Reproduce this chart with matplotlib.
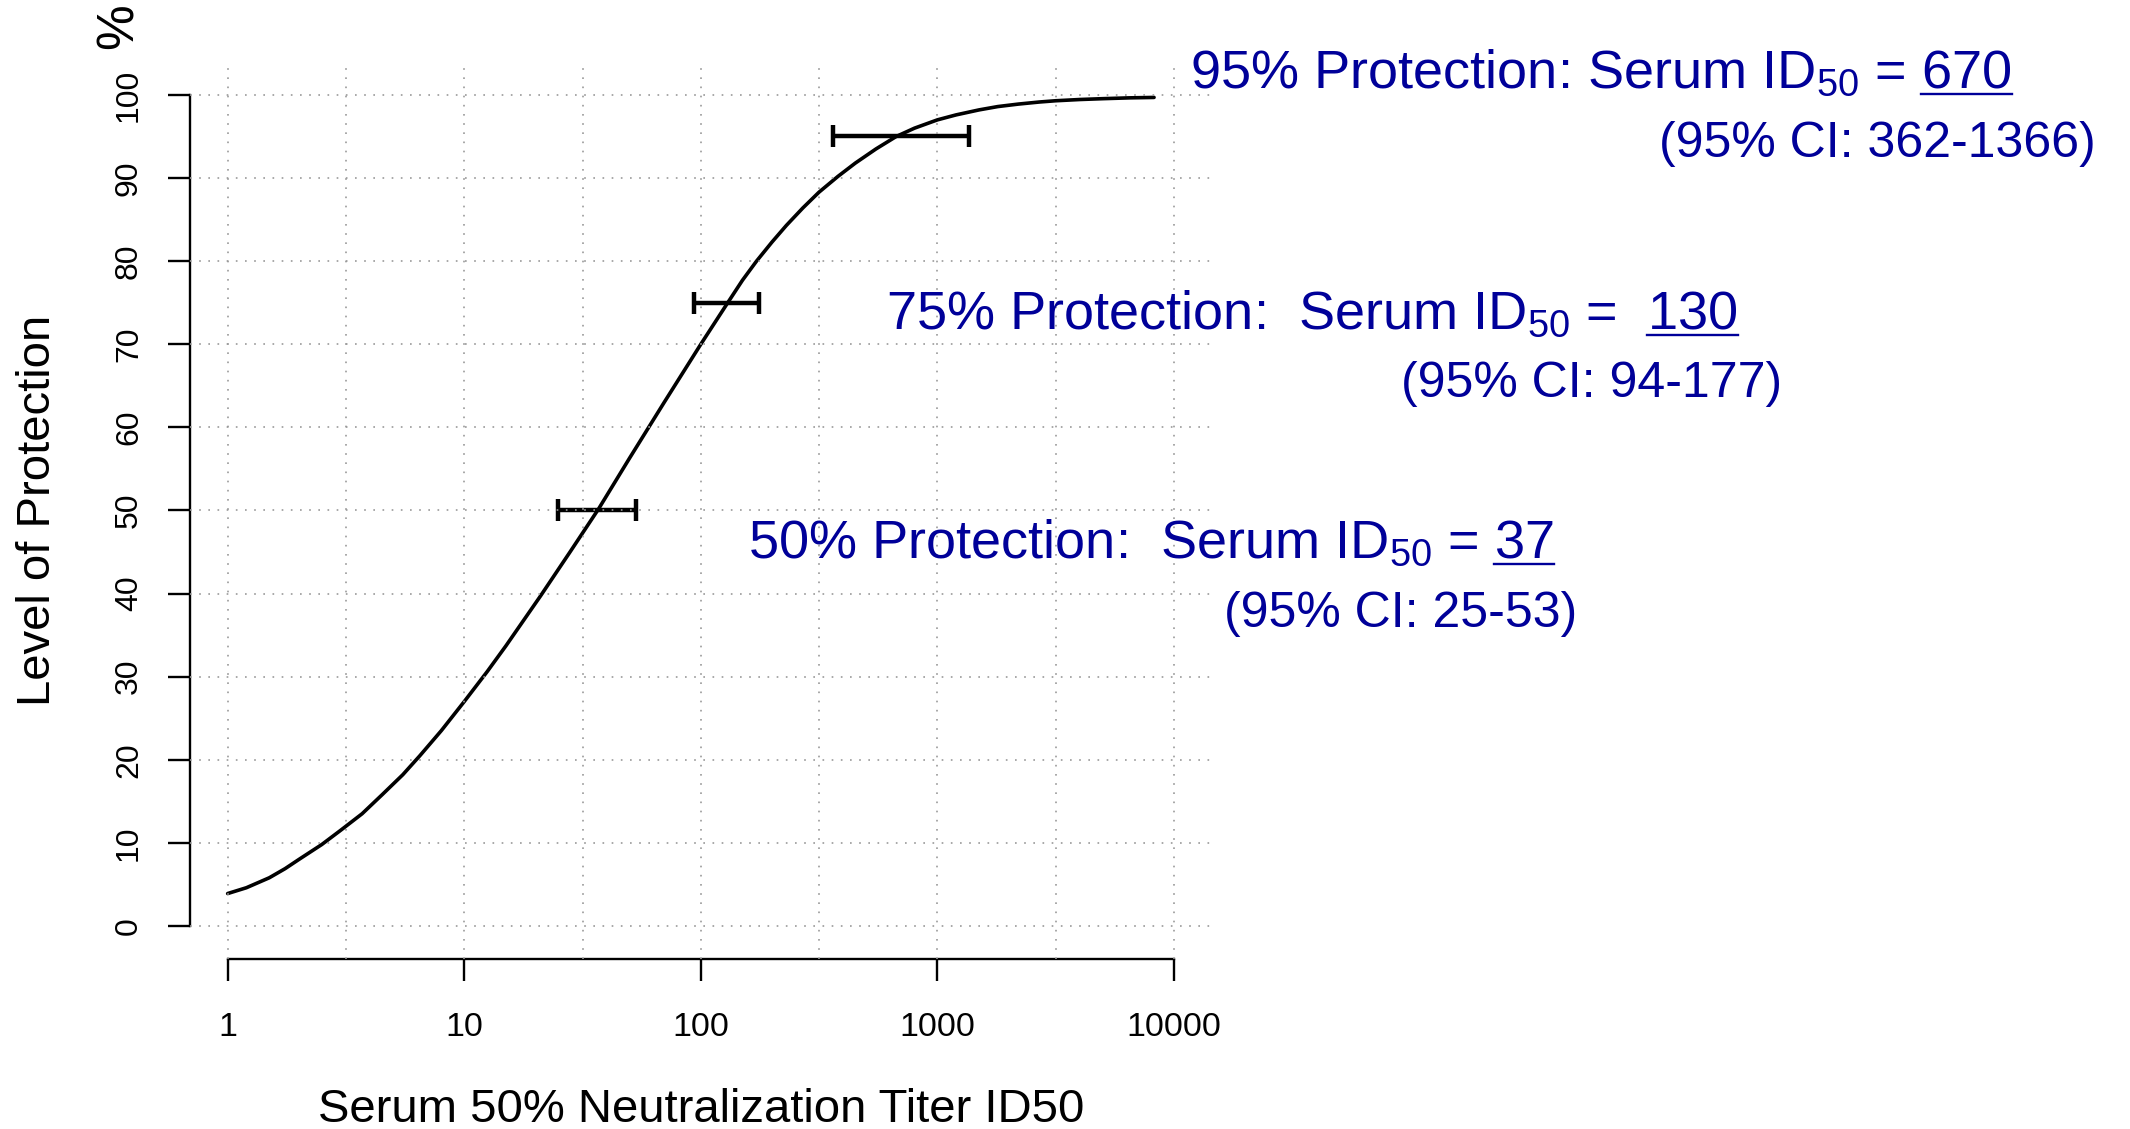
import matplotlib

matplotlib.use("Agg")

import numpy as np
from matplotlib import pyplot as plt
from matplotlib.lines import Line2D
from matplotlib.ticker import FixedLocator, NullFormatter

# protection curve
CURVE_TITER = [1, 1.2, 1.5, 1.75, 2, 2.5, 3, 3.7, 4.5, 5.5, 6.5, 8, 10, 12.5,
               15, 21, 28, 37, 50, 70, 100, 130, 150, 172, 200, 230, 270, 316,
               380, 450, 550, 670, 800, 1000, 1200, 1500, 1800, 2200, 2700,
               3162, 4000, 5000, 6500, 8240]
CURVE_PROTECTION = [3.9, 4.6, 5.8, 6.9, 8.0, 9.8, 11.5, 13.5, 15.8, 18.2, 20.5,
                    23.5, 27.0, 30.6, 33.7, 39.7, 45.0, 50.2, 56.3, 63.0, 70.0,
                    75.0, 77.7, 80.0, 82.3, 84.3, 86.4, 88.3, 90.2, 91.8, 93.5,
                    95.0, 96.0, 97.0, 97.6, 98.2, 98.6, 98.9, 99.15, 99.3,
                    99.45, 99.55, 99.65, 99.7]

PROTECTION_LEVELS = [95, 75, 50]
ID50_ESTIMATES = [670, 130, 37]
CI_LOWER = [362, 94, 25]
CI_UPPER = [1366, 177, 53]
GAP_AFTER_COLON = [" ", "  ", "  "]
GAP_AFTER_EQUALS = [" ", "  ", " "]

X_TICKS = [1, 10, 100, 1000, 10000]
Y_TICKS = [0, 10, 20, 30, 40, 50, 60, 70, 80, 90, 100]

# layout, in pixels of the 2130x1129 output
W, H, DPI = 2130, 1129, 100
HEADLINE_XY = [(1190, 88), (886, 329), (748, 558)]
CI_XY = [(2096, 157), (1782, 397), (1577, 627)]
BLUE = "#000099"
GRID_STYLE = dict(color="#999999", linewidth=1.2, linestyle=(0, (1, 4.5)))

plt.rcParams["font.family"] = ["Liberation Sans", "DejaVu Sans"]


def fig_xy(x: float, y: float) -> tuple[float, float]:
    return x / W, 1 - y / H


fig = plt.figure(figsize=(W / DPI, H / DPI), dpi=DPI)
ax = fig.add_axes([189.8 / W, 1 - 959.2 / H, 1022 / W, 897.5 / H])

ax.set_xscale("log")
ax.set_xlim(10**-0.16, 10**4.16)
ax.set_ylim(-4, 104)

ax.plot(CURVE_TITER, CURVE_PROTECTION, color="black", linewidth=2.6,
        solid_capstyle="round", solid_joinstyle="round")

est = np.array(ID50_ESTIMATES)
ax.errorbar(est, PROTECTION_LEVELS,
            xerr=[est - np.array(CI_LOWER), np.array(CI_UPPER) - est],
            fmt="none", ecolor="black", elinewidth=3.2, capsize=8.2,
            capthick=3.2)

# axes in the R style: no box, spines only over the tick range
for side in ("top", "right"):
    ax.spines[side].set_visible(False)
ax.spines["left"].set_bounds(0, 100)
ax.spines["bottom"].set_bounds(1, 10000)
for side in ("left", "bottom"):
    ax.spines[side].set_linewidth(1.7)

ax.set_xticks(X_TICKS, [str(t) for t in X_TICKS])
ax.xaxis.set_minor_locator(FixedLocator(np.logspace(0.5, 3.5, 4)))
ax.xaxis.set_minor_formatter(NullFormatter())
ax.set_yticks(Y_TICKS, [str(t) for t in Y_TICKS])
ax.tick_params(axis="x", which="major", length=15.8, width=1.7, pad=22.3,
               labelsize=24.5)
ax.tick_params(axis="x", which="minor", length=0)
ax.tick_params(axis="y", length=15.8, width=1.7, pad=17.2, labelsize=23,
               labelrotation=90)
plt.setp(ax.get_yticklabels(), va="center")

ax.grid(axis="x", which="both", **GRID_STYLE)
ax.grid(axis="y", which="major", **GRID_STYLE)
ax.set_axisbelow(False)

ax.set_xlabel("Serum 50% Neutralization Titer ID50", fontsize=34, va="baseline")
ax.xaxis.set_label_coords(0.5, (959.2 - 1121.7) / 897.5)
ax.set_ylabel("Level of Protection", fontsize=34, va="center")
ax.yaxis.set_label_coords((38 - 189.8) / 1022, 0.5)
fig.text(*fig_xy(119, 26), "%", rotation=90, fontsize=37, ha="center",
         va="center")

headlines = []
for level, value, gap1, gap2, (hx, hy) in zip(
        PROTECTION_LEVELS, ID50_ESTIMATES, GAP_AFTER_COLON, GAP_AFTER_EQUALS,
        HEADLINE_XY):
    label = (f"{level}% Protection:{gap1}Serum ID" + r"$_\mathregular{50}$"
             + f" ={gap2}{value}")
    headlines.append(fig.text(*fig_xy(hx, hy), label, fontsize=39, color=BLUE,
                              ha="left", va="baseline"))

for lo, hi, (cx, cy) in zip(CI_LOWER, CI_UPPER, CI_XY):
    fig.text(*fig_xy(cx, cy), f"(95% CI: {lo}-{hi})", fontsize=36, color=BLUE,
             ha="right", va="baseline")

# underline the estimate at the end of each headline
fig.canvas.draw()
renderer = fig.canvas.get_renderer()
for head, value, (hx, hy) in zip(headlines, ID50_ESTIMATES, HEADLINE_XY):
    bb = head.get_window_extent(renderer)
    probe = fig.text(0, 0, str(value), fontsize=39)
    width = probe.get_window_extent(renderer).width
    probe.remove()
    y = 1 - (hy + 6) / H
    fig.add_artist(Line2D([(bb.x1 - width) / W, bb.x1 / W], [y, y],
                          transform=fig.transFigure, color=BLUE, linewidth=1.7))

fig.savefig("out.png", dpi=DPI)
